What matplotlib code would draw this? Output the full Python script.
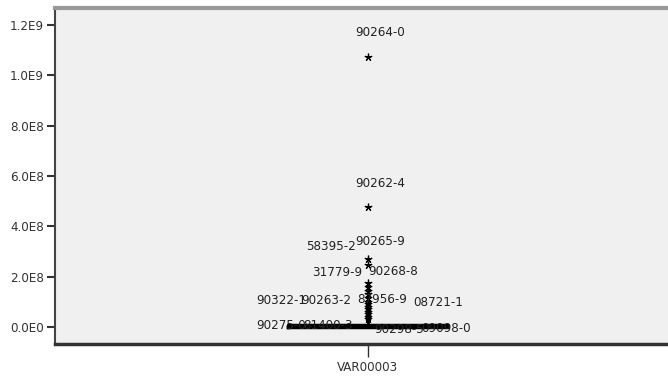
import matplotlib.pyplot as plt

# box statistics (values of VAR00003)
box_q1 = 0.0
box_med = 4.0e6
box_q3 = 9.0e6
whisk_lo = 0.0
whisk_hi = 2.5e7

# extreme values (starred cases)
extreme_vals = [1.075e9, 4.77e8, 2.72e8, 2.45e8, 1.75e8, 1.60e8, 1.45e8, 1.30e8,
                1.15e8, 1.0e8, 9.0e7, 8.0e7, 7.0e7, 6.0e7, 5.0e7, 4.0e7, 3.0e7]
# SPSS case labels and the value of the case each one belongs to
case_labels = ["90264-0", "90262-4", "90265-9", "58395-2", "31779-9", "90268-8",
               "90322-1", "90263-2", "87956-9", "08721-1",
               "90275-0", "81400-3", "90298-5", "09098-0"]
label_vals = [1.075e9, 4.77e8, 2.72e8, 2.45e8, 1.75e8, 1.60e8,
              1.15e8, 1.30e8, 1.0e8, 9.0e7,
              3.0e7, 4.0e7, 5.0e7, 6.0e7]
# label offset from its star, in pixels (dx right, dy up)
label_off_px = [(12, 24), (12, 23), (12, 17), (-37, 19), (-31, 10), (25, 15),
                (-87, -2), (-42, -6), (14, 2), (70, 2),
                (-87, -6), (-40, -9), (31, -15), (78, -17)]

x_name = "VAR00003"
yticks = [0, 2e8, 4e8, 6e8, 8e8, 1.0e9, 1.2e9]
ytick_labels = ["0.0E0", "2.0E8", "4.0E8", "6.0E8", "8.0E8", "1.0E9", "1.2E9"]

plt.rcParams['font.family'] = ['DejaVu Sans']
plt.rcParams['font.stretch'] = 'condensed'

fig = plt.figure(figsize=(6.68, 3.79), dpi=100)
ax = fig.add_axes([55/668, 35/379, 626/668, 336/379])
ax.set_facecolor("#f0f0f0")

stats = [dict(med=box_med, q1=box_q1, q3=box_q3, whislo=whisk_lo, whishi=whisk_hi, fliers=[])]
ax.bxp(stats, positions=[1], widths=0.256, showfliers=False, showcaps=False,
       boxprops=dict(color="black", linewidth=2.5),
       medianprops=dict(color="black", linewidth=2.5),
       whiskerprops=dict(color="black", linewidth=2))

ax.plot([1]*len(extreme_vals), extreme_vals, ls="none", marker=(5, 2, 0), ms=5.5,
        color="black", mew=0.9)

for lab, v, (dx, dy) in zip(case_labels, label_vals, label_off_px):
    ax.annotate(lab, (1, v), xytext=(dx*0.72, dy*0.72), textcoords="offset points",
                ha="center", va="center", fontsize=9.5, color="#222222")

ax.set_xlim(0.5, 1.5)
ax.set_ylim(-6.76e7, 1.268e9)
ax.set_yticks(yticks)
ax.set_yticklabels(ytick_labels, fontsize=9.5, color="#333333")
ax.set_xticks([1])
ax.set_xticklabels([x_name], fontsize=9.5, color="#333333")
ax.tick_params(axis="y", length=6, width=1.5, color="#333333", pad=2)
ax.tick_params(axis="x", length=9, width=1, color="#333333", pad=3)

ax.spines["top"].set_color("#999999")
ax.spines["top"].set_linewidth(3)
ax.spines["left"].set_color("#444444")
ax.spines["left"].set_linewidth(1.5)
ax.spines["bottom"].set_color("#333333")
ax.spines["bottom"].set_linewidth(2.5)
ax.spines["right"].set_visible(False)

fig.savefig("out.png", dpi=100)
